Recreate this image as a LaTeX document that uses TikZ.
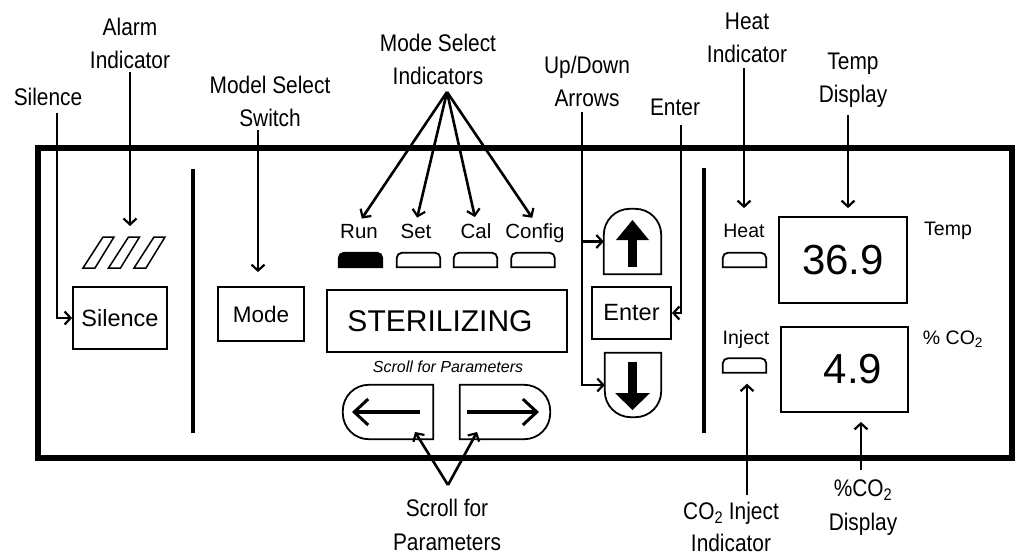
\documentclass[tikz,border=0pt]{standalone}
\usepackage{fontspec}
\setmainfont{Liberation Sans}
\newfontfamily\lab[FakeStretch=0.87]{Liberation Sans}
\usetikzlibrary{arrows.meta}
\begin{document}
\begin{tikzpicture}[x=1pt,y=-1pt,
  lbl/.style={font=\lab\fontsize{24}{33}\selectfont, align=center, inner sep=1pt},
  box/.style={draw, line width=1.8pt, inner sep=0pt},
  txt/.style={inner sep=1pt, font=\fontsize{#1}{#1}\selectfont},
  conn/.style={line width=2.6pt, -{Straight Barb[length=6pt,width=13pt,line width=2.2pt]}},
  ledline/.style={line width=1.8pt},
  led/.style={inner sep=0pt, minimum width=43pt, minimum height=14pt},
  bigarrow/.style={line width=4.5pt, -{Straight Barb[length=14pt,width=26pt,line width=3pt]}}
]
\useasboundingbox (0,0) rectangle (1016,555);

% frame and dividers
\draw[line width=5.5pt] (38,148) rectangle (1012,458);
\draw[line width=4pt] (193,169) -- (193,433);
\draw[line width=4pt] (704,168) -- (704,433);

% alarm indicator
\foreach \o in {0,25.5,51}
  \draw[line width=1.5pt] (83+\o,268) -- (95+\o,268) -- (114+\o,237) -- (103+\o,237) -- cycle;

% panel boxes
\node[box, minimum width=94pt, minimum height=62pt, font=\fontsize{23.5}{24}\selectfont] (silence) at (120,318) {Silence};
\node[box, minimum width=86pt, minimum height=54pt, font=\fontsize{22.5}{23}\selectfont] (mode) at (261,314) {Mode};
\node[box, minimum width=240pt, minimum height=62pt] (ster) at (447,321) {};
\node[txt=30] (sterText) at (440,321) {STERILIZING};
\node[txt=16, font=\itshape\fontsize{16}{16}\selectfont] (scrollTxt) at (448,367) {Scroll for Parameters};
\node[box, minimum width=79pt, minimum height=52pt, font=\fontsize{23.5}{24}\selectfont] (enter) at (631.5,313) {Enter};
\node[box, minimum width=128pt, minimum height=86pt, font=\fontsize{42}{42}\selectfont] (tempD) at (843,260) {36.9};
\node[box, minimum width=127pt, minimum height=85pt] (co2D) at (844.5,369.5) {};
\node[txt=42] (co2Text) at (853,369.5) {4.9};

% mode indicator labels and leds
\node[txt=20.5, anchor=base] (runLab) at (359,238) {Run};
\node[txt=20.5, anchor=base] (setLab) at (416,238) {Set};
\node[txt=20.5, anchor=base] (calLab) at (476,238) {Cal};
\node[txt=20.5, anchor=base] (cfgLab) at (535,238) {Config};
\node[led] (runL) at (360.5,260) {};
\node[led] (setL) at (418.5,260) {};
\node[led] (calL) at (475.5,260) {};
\node[led] (cfgL) at (533,260) {};
\node[led] (heatL) at (744.5,260) {};
\node[led] (injL) at (744.5,365.5) {};
\filldraw[ledline] (runL.south west) [rounded corners=5pt] -- (runL.north west) -- (runL.north east) [sharp corners] -- (runL.south east) -- cycle;
\foreach \n in {setL,calL,cfgL,heatL,injL}
  \draw[ledline] (\n.south west) [rounded corners=5pt] -- (\n.north west) -- (\n.north east) [sharp corners] -- (\n.south east) -- cycle;

\node[txt=19.5] (heatLab) at (744,231) {Heat};
\node[txt=19.5] (injLab) at (746,339) {Inject};
\node[txt=19.5] (tempLab) at (948,231) {Temp};
\node[txt=19.5] (co2Lab) at (953,339) {\% CO\textsubscript{2}};

% buttons
\node[inner sep=0pt, minimum width=57pt, minimum height=65pt] (up) at (632.5,241.5) {};
\node[inner sep=0pt, minimum width=56pt, minimum height=64pt] (down) at (633,385) {};
\node[inner sep=0pt, minimum width=90pt, minimum height=54pt] (lb) at (388,412) {};
\node[inner sep=0pt, minimum width=90pt, minimum height=54pt] (rb) at (505,412) {};
\draw[line width=1.8pt] (up.south west) [rounded corners=26pt] -- (up.north west) -- (up.north east) [sharp corners] -- (up.south east) -- cycle;
\draw[line width=1.8pt] (down.north east) [rounded corners=26pt] -- (down.south east) -- (down.south west) [sharp corners] -- (down.north west) -- cycle;
\draw[line width=1.8pt] (lb.north east) [rounded corners=26pt] -- (lb.north west) -- (lb.south west) [sharp corners] -- (lb.south east) -- cycle;
\draw[line width=1.8pt] (rb.north west) [rounded corners=26pt] -- (rb.north east) -- (rb.south east) [sharp corners] -- (rb.south west) -- cycle;
\fill (616,240) -- (632.5,220) -- (649,240) -- cycle;
\fill (628,238) rectangle (637,267);
\fill (615,393) -- (632.5,410) -- (650,393) -- cycle;
\fill (628,362) rectangle (637,395);
\draw[bigarrow] (420,412) -- (352,412);
\draw[bigarrow] (467,412) -- (539,412);

% callout labels
\node[lbl] (silLab) at (48,97) {Silence};
\node[lbl] (alarmLab) at (130,43.5) {Alarm\\Indicator};
\node[lbl] (modelLab) at (270,101) {Model Select\\Switch};
\node[lbl] (msLab) at (438,59) {Mode Select\\Indicators};
\node[lbl] (udLab) at (587,81) {Up/Down\\Arrows};
\node[lbl] (enterLab) at (675,107) {Enter};
\node[lbl] (heatLab2) at (747,37.5) {Heat\\Indicator};
\node[lbl] (tempLab2) at (853,80) {Temp\\Display};
\node[lbl, font=\lab\fontsize{24}{34}\selectfont] (scrollLab) at (447,525) {Scroll for\\Parameters};
\node[lbl, font=\lab\fontsize{24}{32}\selectfont] (injLab2) at (731,527) {CO\textsubscript{2} Inject\\Indicator};
\node[lbl, font=\lab\fontsize{24}{34}\selectfont] (co2Lab2) at (863,507.5) {\%CO\textsubscript{2}\\Display};

% connectors
\coordinate (silTop) at (57,113);
\coordinate (alarmTop) at (130,72);
\coordinate (alarmTip) at (130,226);
\coordinate (modelTop) at (258,130);
\coordinate (msApex) at (447,92);
\coordinate (scApex) at (448,485);
\coordinate (lbTip) at (415,432);
\coordinate (rbTip) at (477,432);
\coordinate (udTop) at (582,112);
\coordinate (enTop) at (681,125);
\coordinate (heatTop) at (744,68);
\coordinate (tempTop) at (848,115);
\coordinate (injBot) at (747,495);
\coordinate (co2Bot) at (861,470);

\draw[conn] (silTop) |- (silence.west);
\draw[conn] (alarmTop) -- (alarmTip);
\draw[conn, shorten >=14pt] (modelTop) -- (modelTop |- mode.north);
\foreach \t in {runLab,setLab,calLab,cfgLab}
  \draw[conn, shorten >=5pt] (msApex) -- (\t.north);
\draw[conn] (scApex) -- (lbTip);
\draw[conn] (scApex) -- (rbTip);
\draw[conn] (udTop) |- (up.west);
\draw[conn] (udTop) |- (down.west);
\draw[conn] (enTop) |- (enter.east);
\draw[conn, shorten >=8pt] (heatTop) -- (heatTop |- tempD.north);
\draw[conn, shorten >=8pt] (tempTop) -- (tempTop |- tempD.north);
\draw[conn, shorten >=11pt] (injBot) -- (injBot |- injL.south);
\draw[conn, shorten >=9pt] (co2Bot) -- (co2Bot |- co2D.south);
\end{tikzpicture}
\end{document}
